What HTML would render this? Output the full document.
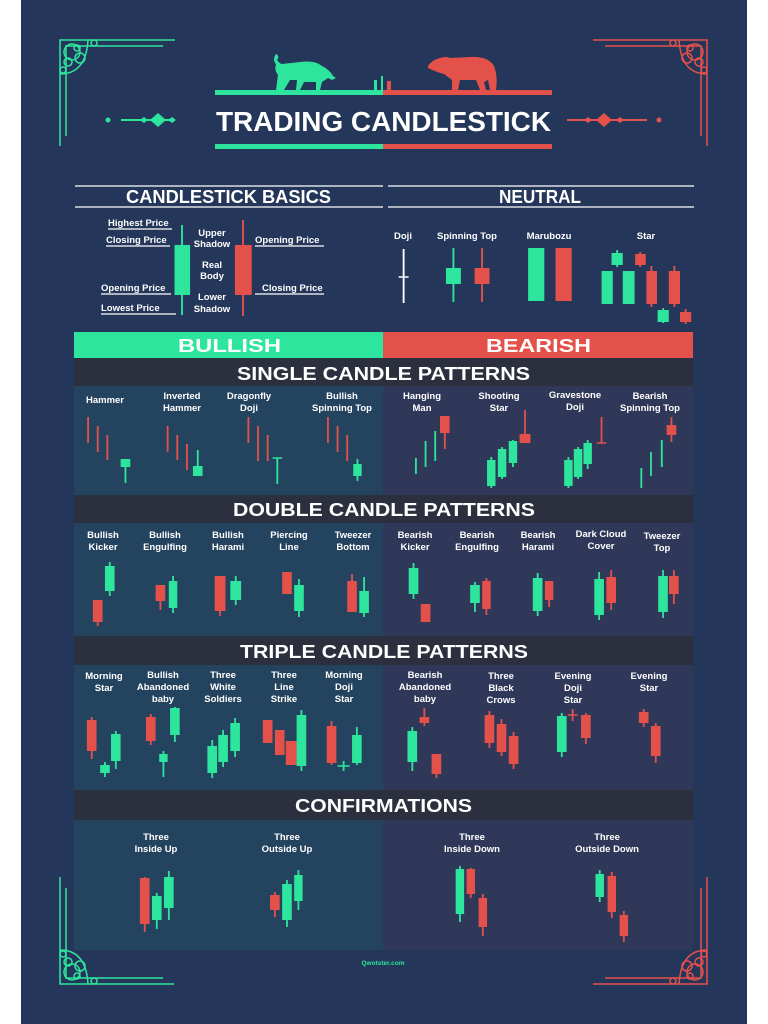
<!DOCTYPE html>
<html><head><meta charset="utf-8"><style>
html,body{margin:0;padding:0;background:#fff;}
svg{display:block}
text{font-family:"Liberation Sans",sans-serif;font-weight:bold;fill:#fff}
.G{fill:#2ee59d}.R{fill:#e4514a}
.g{stroke:#2ee59d;stroke-width:1.5;fill:none}.r{stroke:#e4514a;stroke-width:1.5;fill:none}
.l{font-size:9.5px;text-anchor:middle}
.h{font-size:19px;text-anchor:middle}
.u{stroke:#fff;stroke-width:1.2}
</style></head><body>
<svg width="768" height="1024" viewBox="0 0 768 1024" xmlns="http://www.w3.org/2000/svg">
<rect width="768" height="1024" fill="#fff"/>
<rect x="21" width="726" height="1024" fill="#243659"/>
<!-- corners -->
<g class="g" stroke-width="1.5">
<path d="M60 146V40H175M66 136V46H163"/>
<circle cx="72" cy="52" r="8"/><circle cx="80" cy="58" r="5"/><circle cx="68" cy="62" r="4"/><circle cx="77" cy="48" r="3"/><circle cx="94" cy="43" r="3"/><circle cx="63" cy="70" r="3"/><path d="M60 74 Q86 74 88 40"/>
<path d="M60 877V984H174M66 888V978H163"/>
<circle cx="72" cy="972" r="8"/><circle cx="80" cy="966" r="5"/><circle cx="68" cy="962" r="4"/><circle cx="77" cy="976" r="3"/><circle cx="94" cy="981" r="3"/><circle cx="63" cy="954" r="3"/><path d="M60 950 Q86 950 88 984"/>
</g>
<g class="r" stroke-width="1.5">
<path d="M707 146V40H593M701 136V46H605"/>
<circle cx="695" cy="52" r="8"/><circle cx="687" cy="58" r="5"/><circle cx="699" cy="62" r="4"/><circle cx="690" cy="48" r="3"/><circle cx="673" cy="43" r="3"/><circle cx="704" cy="70" r="3"/><path d="M707 74 Q681 74 679 40"/>
<path d="M707 877V984H593M701 888V978H605"/>
<circle cx="695" cy="972" r="8"/><circle cx="687" cy="966" r="5"/><circle cx="699" cy="962" r="4"/><circle cx="690" cy="976" r="3"/><circle cx="673" cy="981" r="3"/><circle cx="704" cy="954" r="3"/><path d="M707 950 Q681 950 679 984"/>
</g>
<!-- title -->
<rect x="215" y="90" width="168" height="5" class="G"/><rect x="383" y="90" width="169" height="5" class="R"/>
<rect x="215" y="144" width="168" height="5" class="G"/><rect x="383" y="144" width="169" height="5" class="R"/>
<path class="G" d="M276 90 L278 75 Q274 70 276 64 Q272 60 276 54 Q280 56 277 60 Q280 64 282 64 L300 62 Q315 60 322 66 Q330 70 333 76 L336 78 L332 80 L328 78 L322 82 L320 90 L316 90 L316 82 L304 82 L300 90 L296 90 L297 80 L290 80 L284 90Z"/>
<rect x="374" y="80" width="3" height="11" class="G"/><rect x="381" y="76" width="2" height="15" class="G"/><rect x="387" y="81" width="4" height="10" class="R"/>
<path class="R" d="M428 66 Q432 60 440 58 Q446 56 450 58 L470 57 Q488 56 494 66 Q498 76 496 90 L490 90 L488 80 L484 82 L486 90 L480 90 L476 80 L460 80 L458 90 L452 90 L452 80 L444 74 Q436 72 428 68Z"/>
<text x="216" y="131" textLength="335" lengthAdjust="spacingAndGlyphs" style="font-size:28px">TRADING CANDLESTICK</text>
<circle cx="108" cy="120" r="2.5" class="G"/><rect x="121" y="119" width="52" height="2" class="G"/>
<path class="G" d="M140 120l4-3 4 3-4 3zM150 120l8-7 8 7-8 7zM168 120l4-3 4 3-4 3z"/>
<circle cx="659" cy="120" r="2.5" class="R"/><rect x="567" y="119" width="80" height="2" class="R"/>
<path class="R" d="M584 120l4-3 4 3-4 3zM596 120l8-7 8 7-8 7zM616 120l4-3 4 3-4 3z"/>
<!-- section headers -->
<path class="u" stroke-width="2" d="M75 186H383M75 207H383M388 186H694M388 207H694"/>
<text x="126" y="203" textLength="205" lengthAdjust="spacingAndGlyphs" style="font-size:18px">CANDLESTICK BASICS</text>
<text x="499" y="203" textLength="82" lengthAdjust="spacingAndGlyphs" style="font-size:18px">NEUTRAL</text>
<!-- basics labels -->
<g style="font-size:9.5px">
<text x="108" y="226">Highest Price</text><text x="106" y="243">Closing Price</text>
<text x="101" y="291">Opening Price</text><text x="101" y="311">Lowest Price</text>
<text x="255" y="243">Opening Price</text><text x="262" y="291">Closing Price</text>
</g>
<path class="u" d="M108 229H172M106 246H170M101 294H171M101 314H176M255 246H324M255 294H324"/>
<g class="l"><text x="212" y="236">Upper</text><text x="212" y="247">Shadow</text>
<text x="212" y="268">Real</text><text x="212" y="279">Body</text>
<text x="212" y="300">Lower</text><text x="212" y="312">Shadow</text>
<text x="403" y="239">Doji</text><text x="467" y="239">Spinning Top</text><text x="549" y="239">Marubozu</text><text x="646" y="239">Star</text></g>
<g transform="matrix(1.245,0,0,1,-14.7,0)">
<line x1="158" y1="225" x2="158" y2="315" class="g"/><rect x="152" y="245" width="12.5" height="50" class="G"/>
<line x1="207" y1="220" x2="207" y2="316" class="r"/><rect x="200.5" y="245" width="13.5" height="50" class="R"/>
<line x1="336" y1="249" x2="336" y2="303" stroke="#fff" stroke-width="1.5"/><line x1="332" y1="277" x2="340" y2="277" stroke="#fff" stroke-width="1.5"/>
<line x1="376" y1="248" x2="376" y2="302" class="g"/><rect x="370" y="268" width="12" height="16" class="G"/>
<line x1="399" y1="248" x2="399" y2="302" class="r"/><rect x="393" y="268" width="12" height="16" class="R"/>
<rect x="436" y="248" width="13" height="53" class="G"/><rect x="458" y="248" width="13" height="53" class="R"/>
<line x1="507.5" y1="250" x2="507.5" y2="267" class="g"/><rect x="503" y="253" width="9" height="12" class="G"/>
<rect x="495" y="271" width="9" height="33" class="G"/><rect x="512" y="271" width="9.5" height="33" class="G"/>
<line x1="526" y1="252" x2="526" y2="267" class="r"/><rect x="522" y="254" width="8.5" height="11" class="R"/>
<line x1="535" y1="266" x2="535" y2="307" class="r"/><rect x="531" y="271" width="8.5" height="33" class="R"/>
<line x1="553.5" y1="266" x2="553.5" y2="307" class="r"/><rect x="549" y="271" width="9" height="33" class="R"/>
<line x1="544.5" y1="308" x2="544.5" y2="323" class="g"/><rect x="540" y="310" width="9" height="12" class="G"/>
<line x1="562.5" y1="309" x2="562.5" y2="324" class="r"/><rect x="558" y="312" width="9" height="10" class="R"/>
</g>
<!-- bullish/bearish -->
<rect x="74" y="332" width="309" height="26" class="G"/><rect x="383" y="332" width="310" height="26" class="R"/>
<text x="178" y="352" textLength="103" lengthAdjust="spacingAndGlyphs" style="font-size:18px">BULLISH</text>
<text x="486" y="352" textLength="105" lengthAdjust="spacingAndGlyphs" style="font-size:18px">BEARISH</text>
<!-- panels -->
<rect x="74" y="386" width="309" height="109" fill="#24435f"/><rect x="383" y="386" width="310" height="109" fill="#303859"/>
<rect x="74" y="523" width="309" height="113" fill="#24435f"/><rect x="383" y="523" width="310" height="113" fill="#303859"/>
<rect x="74" y="665" width="309" height="125" fill="#24435f"/><rect x="383" y="665" width="310" height="125" fill="#303859"/>
<rect x="74" y="820" width="309" height="130" fill="#24435f"/><rect x="383" y="820" width="310" height="130" fill="#303859"/>
<g fill="#2b2f3e"><rect x="74" y="358" width="619" height="28"/><rect x="74" y="495" width="619" height="28"/><rect x="74" y="636" width="619" height="29"/><rect x="74" y="790" width="619" height="30"/></g>
<text x="237" y="380" textLength="293" lengthAdjust="spacingAndGlyphs" style="font-size:18px">SINGLE CANDLE PATTERNS</text>
<text x="233" y="516" textLength="302" lengthAdjust="spacingAndGlyphs" style="font-size:18px">DOUBLE CANDLE PATTERNS</text>
<text x="240" y="658" textLength="288" lengthAdjust="spacingAndGlyphs" style="font-size:18px">TRIPLE CANDLE PATTERNS</text>
<text x="295" y="812" textLength="177" lengthAdjust="spacingAndGlyphs" style="font-size:18px">CONFIRMATIONS</text>
<!-- single labels -->
<g class="l">
<text x="105" y="403">Hammer</text>
<text x="182" y="399">Inverted</text><text x="182" y="411">Hammer</text>
<text x="249" y="399">Dragonfly</text><text x="249" y="411">Doji</text>
<text x="342" y="399">Bullish</text><text x="342" y="411">Spinning Top</text>
<text x="422" y="399">Hanging</text><text x="422" y="411">Man</text>
<text x="499" y="399">Shooting</text><text x="499" y="411">Star</text>
<text x="575" y="398">Gravestone</text><text x="575" y="410">Doji</text>
<text x="650" y="399">Bearish</text><text x="650" y="411">Spinning Top</text>
<text x="103" y="538">Bullish</text><text x="103" y="550">Kicker</text>
<text x="165" y="538">Bullish</text><text x="165" y="550">Engulfing</text>
<text x="228" y="538">Bullish</text><text x="228" y="550">Harami</text>
<text x="289" y="538">Piercing</text><text x="289" y="550">Line</text>
<text x="353" y="538">Tweezer</text><text x="353" y="550">Bottom</text>
<text x="415" y="538">Bearish</text><text x="415" y="550">Kicker</text>
<text x="477" y="538">Bearish</text><text x="477" y="550">Engulfing</text>
<text x="538" y="538">Bearish</text><text x="538" y="550">Harami</text>
<text x="601" y="537">Dark Cloud</text><text x="601" y="549">Cover</text>
<text x="662" y="539">Tweezer</text><text x="662" y="551">Top</text>
<text x="104" y="679">Morning</text><text x="104" y="691">Star</text>
<text x="163" y="678">Bullish</text><text x="163" y="690">Abandoned</text><text x="163" y="702">baby</text>
<text x="223" y="678">Three</text><text x="223" y="690">White</text><text x="223" y="702">Soldiers</text>
<text x="284" y="678">Three</text><text x="284" y="690">Line</text><text x="284" y="702">Strike</text>
<text x="344" y="678">Morning</text><text x="344" y="690">Doji</text><text x="344" y="702">Star</text>
<text x="425" y="678">Bearish</text><text x="425" y="690">Abandoned</text><text x="425" y="702">baby</text>
<text x="501" y="679">Three</text><text x="501" y="691">Black</text><text x="501" y="703">Crows</text>
<text x="573" y="679">Evening</text><text x="573" y="691">Doji</text><text x="573" y="703">Star</text>
<text x="649" y="679">Evening</text><text x="649" y="691">Star</text>
<text x="156" y="840">Three</text><text x="156" y="852">Inside Up</text>
<text x="287" y="840">Three</text><text x="287" y="852">Outside Up</text>
<text x="472" y="840">Three</text><text x="472" y="852">Inside Down</text>
<text x="607" y="840">Three</text><text x="607" y="852">Outside Down</text>
</g>
<text x="383" y="965" style="font-size:6.5px;text-anchor:middle;fill:#2ee59d">Qwotster.com</text>
<g transform="matrix(1.2053,0,0,1,-14.37,0)">
<path class="r" d="M85 417V443M93 426V452M101 435V460M151 426V452M159 435V460M167 444V470M218 417V443M226 426V461M234 435V461M284 417V443M292 426V452M300 435V461M569 417V442M381 416V449M447.5 410V443M511 417V443M507 443H515"/>
<path class="g" d="M116 459V483M176 450V476M242 458V484M238 458H246M308.5 459V481M357 458V474M365 441V467M373 431V461M419.5 457V488M428.5 447V479M437.5 440V467M483.5 457V488M491.5 447V479M499.5 440V469M544 468V488M552 452V476M561 440V467"/>
<rect x="112" y="459" width="8" height="8" class="G"/><rect x="172" y="466" width="8" height="10" class="G"/><rect x="305" y="464" width="7" height="12" class="G"/>
<rect x="377" y="416" width="8" height="17" class="R"/><rect x="443" y="434" width="9" height="9" class="R"/><rect x="565" y="425" width="8" height="10" class="R"/>
<rect x="416" y="460" width="7" height="26" class="G"/><rect x="425" y="449" width="7" height="28" class="G"/><rect x="434" y="441" width="7" height="22" class="G"/>
<rect x="480" y="460" width="7" height="26" class="G"/><rect x="488" y="449" width="7" height="28" class="G"/><rect x="496" y="443" width="7" height="21" class="G"/>
<path class="r" d="M93 600V626M145 585V610M194.5 576V616M250 572V594M304 574V612M365 604V622M415.5 578V615M467.5 581V607M519 570V610M571 570V604"/>
<path class="g" d="M103 562V596M155.5 576V613M207.5 576V605M260 579V617M314 577V617M355 563V599M406 582V612M458 573V616M509 572V620M562 570V618"/>
<rect x="89" y="600" width="8" height="22" class="R"/><rect x="99" y="566" width="8" height="25" class="G"/>
<rect x="141" y="585" width="8" height="16" class="R"/><rect x="152" y="581" width="7" height="27" class="G"/>
<rect x="190" y="576" width="9" height="35" class="R"/><rect x="203" y="581" width="9" height="19" class="G"/>
<rect x="246" y="572" width="8" height="22" class="R"/><rect x="256" y="585" width="8" height="26" class="G"/>
<rect x="300" y="581" width="8" height="31" class="R"/><rect x="310" y="591" width="8" height="22" class="G"/>
<rect x="351" y="568" width="8" height="26" class="G"/><rect x="361" y="604" width="8" height="18" class="R"/>
<rect x="402" y="585" width="8" height="18" class="G"/><rect x="412" y="581" width="7" height="28" class="R"/>
<rect x="454" y="578" width="8" height="33" class="G"/><rect x="464" y="581" width="7" height="19" class="R"/>
<rect x="505" y="579" width="8" height="36" class="G"/><rect x="515" y="577" width="8" height="26" class="R"/>
<rect x="558" y="576" width="8" height="36" class="G"/><rect x="567" y="576" width="8" height="18" class="R"/>
<path class="r" d="M88 717V759M137 714V745M287 721V765M364 708V726M374 754V778M418 711V748M428 719V756M438 732V769M487 709V721M483 715H491M498 713V744M546 709V727M556 723V763"/>
<path class="g" d="M99 762V777M108 731V769M147.5 751V777M157 707V742M188 740V778M197 730V767M207 718V757M262 710V771M297 761V771M292 766H302M308 727V765M354 727V771M478 713V757"/>
<rect x="84" y="720" width="8" height="31" class="R"/><rect x="95" y="765" width="8" height="8" class="G"/><rect x="104" y="734" width="8" height="27" class="G"/>
<rect x="133" y="717" width="8" height="24" class="R"/><rect x="144" y="754" width="7" height="8" class="G"/><rect x="153" y="708" width="8" height="27" class="G"/>
<rect x="184" y="746" width="8" height="27" class="G"/><rect x="193" y="735" width="8" height="27" class="G"/><rect x="203" y="723" width="8" height="28" class="G"/>
<rect x="230" y="720" width="8" height="23" class="R"/><rect x="240" y="730" width="8" height="25" class="R"/><rect x="249" y="741" width="9" height="24" class="R"/><rect x="258" y="715" width="8" height="51" class="G"/>
<rect x="283" y="726" width="8" height="37" class="R"/><rect x="304" y="735" width="8" height="28" class="G"/>
<rect x="350" y="731" width="8" height="31" class="G"/><rect x="360" y="717" width="8" height="6" class="R"/><rect x="370" y="754" width="8" height="20" class="R"/>
<rect x="414" y="715" width="8" height="28" class="R"/><rect x="424" y="724" width="8" height="28" class="R"/><rect x="434" y="736" width="8" height="28" class="R"/>
<rect x="474" y="716" width="8" height="36" class="G"/><rect x="494" y="715" width="8" height="23" class="R"/>
<rect x="542" y="712" width="8" height="11" class="R"/><rect x="552" y="726" width="8" height="30" class="R"/>
<path class="r" d="M132 877V932M240 892V917M402.5 868V898M412.5 894V936M519.5 872V918M529.5 911V942"/>
<path class="g" d="M142 893V929M152 871V920M250 880V927M259.5 870V910M393.5 866V922M509.5 870V902"/>
<rect x="128" y="878" width="8" height="46" class="R"/><rect x="138" y="896" width="8" height="24" class="G"/><rect x="148" y="877" width="8" height="31" class="G"/>
<rect x="236" y="895" width="8" height="15" class="R"/><rect x="246" y="884" width="8" height="36" class="G"/><rect x="256" y="875" width="7" height="26" class="G"/>
<rect x="390" y="869" width="7" height="45" class="G"/><rect x="399" y="869" width="7" height="25" class="R"/><rect x="409" y="898" width="7" height="29" class="R"/>
<rect x="506" y="874" width="7" height="23" class="G"/><rect x="516" y="876" width="7" height="36" class="R"/><rect x="526" y="915" width="7" height="21" class="R"/>
</g>
</svg>
</body></html>
